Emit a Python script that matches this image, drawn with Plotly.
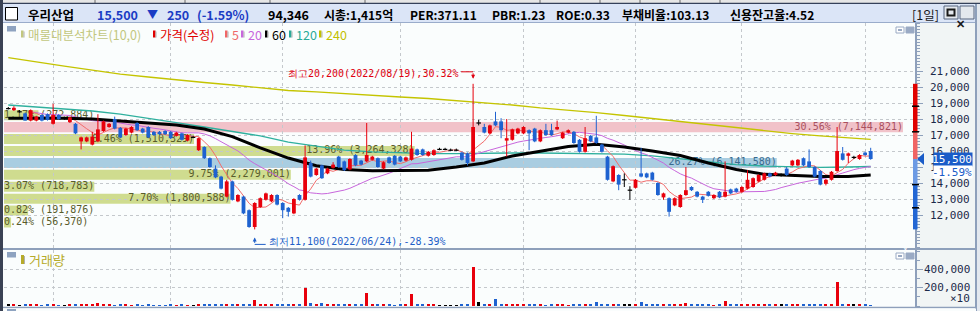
import plotly.graph_objects as go
import pandas as pd

# ============================ DATA ============================
holidays = ["2022-05-05", "2022-06-01", "2022-06-06", "2022-08-15",
            "2022-09-09", "2022-09-12", "2022-10-03", "2022-10-10"]
dates = [d for d in pd.bdate_range("2022-04-20", "2022-12-02")
         if d.strftime("%Y-%m-%d") not in holidays]

opens = [18650, 18550, 18450, 18350, 17900, 17900, 18250, 18300, 17700, 18250,
         18050, 17800, 17700, 16600, 16600, 16400, 16600, 17250, 17500, 18000,
         17450, 17000, 17150, 17750, 17400, 17500, 17200, 17200, 17250, 17200,
         16950, 17100, 16650, 16850, 16050, 16250, 15550, 14900, 14400, 13150,
         14100, 12850, 13150, 12300, 11250, 12500, 12950, 12850, 13250, 12750,
         12450, 12100, 13250, 12950, 15250, 14500, 15100, 14600, 14950, 15650,
         15350, 14850, 15750, 15400, 15350, 15450, 15550, 14900, 15600, 15700,
         15650, 15400, 15450, 16100, 16100, 15700, 15750, 16100, 16100, 16050,
         16050, 15900, 15850, 15350, 17750, 17500, 17100, 17850, 17850, 16650,
         16700, 17100, 17100, 17300, 17400, 16600, 17300, 17300, 17350, 16800,
         17150, 17200, 16700, 15950, 16950, 16850, 16400, 15650, 14100, 14500,
         14200, 13550, 13700, 14600, 14600, 14650, 14000, 13100, 13050, 12600,
         12500, 13250, 13750, 13450, 13150, 13450, 13050, 13450, 13150, 13600,
         13650, 13450, 13650, 13750, 14100, 14200, 14600, 14500, 14500, 14900,
         15100, 15100, 15550, 15350, 15000, 14750, 13950, 14200, 14750, 15850,
         15700, 15600, 15500, 15900, 16000]
highs = [18750, 18800, 18550, 18400, 18600, 18200, 18300, 18350, 18950, 18300,
         18150, 18150, 17750, 16900, 16900, 17200, 18300, 17900, 17750, 18150,
         17500, 17450, 17550, 17800, 17450, 17550, 17250, 17250, 17300, 17250,
         17200, 17150, 17050, 16950, 16850, 16300, 15600, 15100, 14450, 14200,
         14150, 13300, 13200, 12350, 12800, 13100, 13400, 13300, 13300, 12800,
         12500, 13050, 13300, 16350, 15400, 14950, 15150, 14950, 15300, 15700,
         15400, 15550, 15800, 15450, 17750, 15700, 15600, 15350, 15650, 15750,
         15700, 15650, 17200, 16150, 16150, 16000, 16100, 16200, 16200, 16150,
         16150, 15950, 15900, 20200, 17950, 17700, 17650, 18450, 18050, 18000,
         17400, 17450, 17550, 17350, 17450, 17350, 17700, 17700, 17900, 17200,
         17350, 17250, 16750, 17500, 17000, 18200, 16450, 15700, 15100, 14550,
         14600, 13800, 14250, 16200, 14650, 14700, 14050, 13400, 13100, 13100,
         13300, 15000, 13800, 13500, 13200, 13500, 13300, 13500, 15350, 13650,
         13700, 13800, 14800, 14350, 14550, 14650, 14650, 14700, 14600, 15000,
         15450, 15500, 15600, 16100, 15050, 14800, 14250, 14750, 17500, 16250,
         15900, 15700, 15800, 15950, 16200]
lows = [18600, 18500, 18400, 17900, 17850, 17850, 17850, 17900, 17650, 17950,
        17950, 17750, 17050, 16100, 16550, 16350, 16550, 17200, 17450, 17350,
        16800, 16950, 17100, 17250, 17100, 16800, 16950, 17000, 17000, 16750,
        16900, 16650, 16600, 16800, 16000, 15500, 14950, 14300, 13600, 13100,
        12900, 12800, 12050, 11200, 11100, 12450, 12900, 12800, 12600, 11800,
        11900, 12050, 12900, 12900, 14350, 14450, 14250, 14550, 14900, 14950,
        14750, 14800, 15050, 15100, 15300, 15400, 14950, 14850, 15200, 15100,
        15300, 15350, 15400, 15700, 15700, 15650, 15700, 16050, 16050, 16000,
        16000, 15400, 15100, 15300, 17600, 17100, 17050, 17550, 16800, 15650,
        16650, 17050, 17050, 16050, 16550, 16550, 16950, 16950, 17300, 16750,
        17100, 16450, 15900, 15900, 16550, 16450, 15900, 14150, 14050, 13550,
        13750, 12950, 13650, 14350, 14300, 14150, 13200, 12950, 11900, 12550,
        12450, 13200, 13500, 13100, 12750, 13150, 13000, 13050, 13100, 13300,
        13400, 13400, 13600, 13700, 14050, 14150, 14350, 14450, 14400, 14450,
        15050, 15050, 15050, 14950, 14350, 13850, 13850, 14150, 14700, 15400,
        15250, 15500, 15450, 15700, 15450]
closes = [18650, 18700, 18450, 17900, 18550, 18150, 17900, 17950, 18250, 18000,
          18050, 18100, 17100, 16850, 16850, 16900, 17350, 17850, 17700, 17400,
          16850, 17400, 17500, 17300, 17150, 16850, 17000, 17050, 17050, 16800,
          17150, 16700, 17000, 16850, 16800, 15550, 15000, 14350, 13650, 14100,
          12950, 13250, 12100, 11250, 12750, 13050, 13350, 13250, 12650, 12300,
          12200, 13000, 12950, 15600, 14400, 14900, 14300, 14900, 15150, 15000,
          14800, 15500, 15100, 15150, 15750, 15650, 15000, 15300, 15250, 15150,
          15350, 15600, 16150, 15750, 15750, 15950, 16050, 16100, 16100, 16050,
          16050, 15450, 15250, 17500, 17750, 17150, 17600, 17600, 17300, 16800,
          17350, 17400, 17500, 17100, 16600, 17300, 17000, 17000, 17500, 17150,
          17300, 16500, 15950, 16800, 16600, 16500, 15950, 14200, 15050, 13900,
          14200, 13550, 14200, 14400, 14350, 14200, 13250, 13350, 12200, 13050,
          13250, 13550, 13550, 13150, 12950, 13200, 13250, 13100, 13450, 13350,
          13450, 13750, 14200, 14300, 14500, 14600, 14400, 14650, 14500, 14500,
          15400, 15450, 15100, 15000, 14400, 13900, 14200, 14700, 16000, 15450,
          15850, 15600, 15750, 15750, 15500]
# volume in axis units (x10 shares)
volumes = [12000, 13000, 11000, 12000, 14000, 12000, 11000, 12000, 15000, 11000,
           10000, 12000, 14000, 16000, 12000, 15000, 30000, 14000, 12000, 11000,
           13000, 12000, 11000, 12000, 10000, 12000, 11000, 10000, 11000, 12000,
           10000, 12000, 11000, 10000, 14000, 13000, 15000, 16000, 18000, 17000,
           15000, 12000, 16000, 20000, 63000, 16000, 14000, 12000, 13000, 15000,
           14000, 18000, 20000, 196000, 30000, 18000, 28000, 16000, 20000, 22000,
           14000, 16000, 15000, 12000, 144000, 16000, 14000, 13000, 12000, 11000,
           12000, 13000, 130000, 15000, 13000, 12000, 12000, 11000, 10000, 11000,
           10000, 13000, 14000, 433000, 44000, 25000, 22000, 74000, 22000, 22000,
           14000, 13000, 14000, 12000, 12000, 13000, 11000, 12000, 13000, 12000,
           11000, 13000, 14000, 27000, 14000, 48000, 14000, 16000, 15000, 14000,
           12000, 13000, 12000, 40000, 13000, 14000, 15000, 13000, 16000, 13000,
           14000, 30000, 13000, 12000, 13000, 12000, 11000, 12000, 50000, 13000,
           12000, 14000, 22000, 15000, 14000, 13000, 12000, 13000, 12000, 13000,
           14000, 13000, 12000, 14000, 13000, 15000, 14000, 15000, 267000, 22000,
           14000, 12000, 13000, 12000, 9435]

# long moving averages (every 5th session)
ma_idx = [0, 5, 10, 15, 20, 25, 30, 35, 40, 45, 50, 55, 60, 65, 70, 75, 80, 85,
          90, 95, 100, 105, 110, 115, 120, 125, 130, 135, 140, 145, 150, 154]
ma60 = [18050, 18050, 18050, 18000, 17875, 17750, 17625, 17375, 16900, 16200,
        15560, 15080, 14850, 14770, 14770, 14800, 15000, 15250, 15690, 16000,
        16280, 16420, 16250, 16000, 15720, 15250, 14840, 14540, 14470, 14400,
        14400, 14500]
ma120 = [18875, 18750, 18650, 18500, 18310, 18060, 17780, 17500, 17220, 16940,
         16560, 16310, 16060, 15940, 15875, 15840, 15840, 15875, 15875, 15875,
         15860, 15840, 15810, 15690, 15500, 15310, 15150, 15060, 15000, 14980,
         15000, 15030]
ma240 = [21840, 21560, 21310, 21060, 20810, 20625, 20440, 20280, 20125, 19940,
         19780, 19690, 19600, 19470, 19375, 19280, 19150, 19030, 18875, 18690,
         18560, 18400, 18220, 18030, 17875, 17690, 17470, 17280, 17090, 16940,
         16810, 16730]

# volume profile (매물대) : 10 bins from top to bottom
profile_pct = [1.17, 30.56, 6.46, 13.96, 26.27, 9.75, 3.07, 7.70, 0.82, 0.24]
profile_vol = [272884, 7144821, 1510329, 3264328, 6141580, 2279001, 718783,
               1800588, 191876, 56370]
profile_top = 18550
profile_bottom = 11100

price_ticks = [12000, 13000, 14000, 15000, 16000, 17000, 18000, 19000, 20000, 21000]
vol_ticks = [200000, 400000]
range_marks = [18800, 17200, 13900, 12450]

stock_name = "우리산업"
today_volume = "94,346"
header_stats = ["시총:1,415억", "PER:371.11", "PBR:1.23", "ROE:0.33",
                "부채비율:103.13", "신용잔고율:4.52"]
legend_names = ["매물대분석차트(10,0)", "가격(수정)", "5", "20", "60", "120", "240"]

# ============================ STYLE ============================
W, H = 980, 311
KR = "Noto Sans CJK KR"
MONO = "DejaVu Sans Mono"
RED, BLUE, BLK = "#e8000c", "#1e62d0", "#000000"
PINK, SKY, OLIVE = "#f1c2c9", "#a9cde1", "#cfdc8f"
BG, AXBG, FRAME = "#fafdfd", "#f1f5f5", "#8ea0bb"


def px(x):
    return x / W


def py(y):
    return 1 - y / H


n = len(closes)
idx = list(range(n))
xr = [(4 - 8.3) / 5.6, (916 - 8.3) / 5.6]
span = xr[1] - xr[0]
PLOT_W = 912


def ccol(o, c):
    return RED if c > o else (BLUE if c < o else BLK)


colors = [ccol(o, c) for o, c in zip(opens, closes)]
cur = closes[-1]
prev = closes[-2]

fig = go.Figure()
shapes = []
ann = []

# ---------------- volume profile bands ----------------
maxp = max(profile_pct)
pitch = (profile_top - profile_bottom) / len(profile_pct)
BAND_FULL = 0.9857
lx, ly, lt, lp, lc = [], [], [], [], []
for k, (p, v) in enumerate(zip(profile_pct, profile_vol)):
    hi = profile_top - k * pitch
    lo = hi - 0.84 * pitch
    frac = p / maxp * BAND_FULL
    if p == maxp:
        fill, tcol = PINK, "#a9505e"
    elif hi - pitch <= cur < hi:
        fill, tcol = SKY, "#386a8e"
    else:
        fill, tcol = OLIVE, "#595c2c"
    shapes.append(dict(type="rect", xref="x domain", yref="y", x0=0, x1=frac,
                       y0=lo, y1=hi, fillcolor=fill, line=dict(width=0), layer="below"))
    label = f"{p:.2f}% ({v:,})"
    tw = len(label) * 6.02
    if frac * PLOT_W >= tw + 4:
        lx.append(xr[0] + frac * span)
        lp.append("middle left")
    else:
        lx.append(xr[0])
        lp.append("middle right")
    ly.append((lo + hi) / 2)
    lt.append(label)
    lc.append(tcol)

fig.add_trace(go.Scatter(x=lx, y=ly, text=lt, mode="text", textposition=lp,
                         textfont=dict(family=MONO, size=10, color=lc),
                         hoverinfo="skip", showlegend=False, cliponaxis=False))

# ---------------- moving averages ----------------
cs = pd.Series(closes, dtype=float)
ma5 = cs.rolling(5).mean()
ma20 = cs.rolling(20, min_periods=5).mean()
fig.add_trace(go.Scatter(x=ma_idx, y=ma240, mode="lines",
                         line=dict(color="#c4c400", width=1.3), hoverinfo="skip"))
fig.add_trace(go.Scatter(x=ma_idx, y=ma120, mode="lines",
                         line=dict(color="#2fb09e", width=1.3), hoverinfo="skip"))
fig.add_trace(go.Scatter(x=idx, y=ma20, mode="lines",
                         line=dict(color="#c866dc", width=1), hoverinfo="skip"))
fig.add_trace(go.Scatter(x=idx, y=ma5, mode="lines",
                         line=dict(color="#f26b6b", width=1), hoverinfo="skip"))
fig.add_trace(go.Scatter(x=ma_idx, y=ma60, mode="lines",
                         line=dict(color="#000000", width=3), hoverinfo="skip"))

# ---------------- candles ----------------
for colr in (RED, BLUE, BLK):
    wx, wy, bx, by = [], [], [], []
    for i in idx:
        if colors[i] != colr:
            continue
        wx += [i, i, None]
        wy += [lows[i], highs[i], None]
        if colr == BLK:
            bx += [i - 0.4, i + 0.4, None]
            by += [closes[i], closes[i], None]
        else:
            bx += [i, i, None]
            by += [opens[i], closes[i], None]
    fig.add_trace(go.Scatter(x=wx, y=wy, mode="lines", line=dict(color=colr, width=1),
                             hoverinfo="skip"))
    fig.add_trace(go.Scatter(x=bx, y=by, mode="lines",
                             line=dict(color=colr, width=1.2 if colr == BLK else 3.8),
                             hoverinfo="skip"))

# ---------------- volume ----------------
fig.add_trace(go.Bar(x=idx, y=volumes, marker=dict(color=colors, line=dict(width=0)),
                     width=0.55, xaxis="x2", yaxis="y2", hoverinfo="skip"))

# ---------------- high / low markers ----------------
ih = max(idx, key=lambda i: highs[i])
il = min(idx, key=lambda i: lows[i])
hi_v, lo_v = highs[ih], lows[il]
hi_txt = f"최고{hi_v:,}({dates[ih]:%Y/%m/%d}),{(hi_v / cur - 1) * 100:.2f}%"
lo_txt = f"최저{lo_v:,}({dates[il]:%Y/%m/%d}),{(lo_v / cur - 1) * 100:.2f}%"
ann.append(dict(x=ih, y=hi_v, xref="x", yref="y", text=hi_txt, showarrow=False,
                xanchor="right", yanchor="middle", xshift=-12, yshift=10,
                font=dict(family=MONO, size=10, color="#e00010")))
ann.append(dict(x=ih, y=hi_v, xref="x", yref="y", text="", showarrow=True,
                ax=0, ay=-7, yshift=5, arrowhead=2, arrowsize=0.8, arrowwidth=1,
                arrowcolor="#e00010"))
shapes.append(dict(type="line", xref="x", yref="y", xsizemode="pixel", ysizemode="pixel",
                   xanchor=ih, yanchor=hi_v, x0=-12, x1=0, y0=12, y1=12,
                   line=dict(color="#e00010", width=1)))
ann.append(dict(x=il, y=lo_v, xref="x", yref="y", text=lo_txt, showarrow=False,
                xanchor="left", yanchor="middle", xshift=12, yshift=-12,
                font=dict(family=MONO, size=10, color="#1f5fc8")))
ann.append(dict(x=il, y=lo_v, xref="x", yref="y", text="", showarrow=True,
                ax=0, ay=7, yshift=-8, arrowhead=2, arrowsize=0.8, arrowwidth=1,
                arrowcolor="#1f5fc8"))
shapes.append(dict(type="line", xref="x", yref="y", xsizemode="pixel", ysizemode="pixel",
                   xanchor=il, yanchor=lo_v, x0=0, x1=11, y0=-15, y1=-15,
                   line=dict(color="#1f5fc8", width=1)))

# ---------------- frame / panels ----------------
def prect(x0, y0, x1, y1, fill, line=None, lw=0, layer="below"):
    shapes.append(dict(type="rect", xref="paper", yref="paper", x0=px(x0), x1=px(x1),
                       y0=py(y1), y1=py(y0), fillcolor=fill, layer=layer,
                       line=dict(color=line or fill, width=lw)))


def pline(x0, y0, x1, y1, color, w=1, layer="above", dash=None):
    shapes.append(dict(type="line", xref="paper", yref="paper", x0=px(x0), x1=px(x1),
                       y0=py(y0), y1=py(y1), layer=layer,
                       line=dict(color=color, width=w, dash=dash)))


prect(916, 23, 976, 308, AXBG)                     # axis area
prect(0, 0, 980, 3.5, "#e6e6e6", layer="above")    # toolbar remnant
for xb in (95, 185, 270, 365, 540, 600, 640, 680, 720):
    pline(xb, 0, xb, 3.5, "#6a6a6a", 1)
pline(0, 3.5, 980, 3.5, "#34405a", 1.5)
prect(3, 4, 977, 22.5, "#dbe5f7", layer="above")   # header bar
pline(3, 22.5, 977, 22.5, "#9aaccb", 1)
prect(0, 0, 3, 311, "#3a4254", layer="above")      # left frame
pline(976, 4, 976, 311, FRAME, 2)                  # right frame
prect(977, 4, 980, 311, "#e3e8ef", layer="above")
pline(916, 23, 916, 308, FRAME, 2)                 # axis line
pline(3, 249, 976, 249, FRAME, 2)                  # separator
pline(3, 307.5, 976, 307.5, FRAME, 1.5)            # bottom
prect(3, 308.5, 976, 311, BG, layer="above")
prect(7, 309, 16, 311, "#8ea3c0", layer="above")

# checkbox + header buttons
prect(5.5, 7.5, 17.5, 20, "#ffffff", "#000000", 1, layer="above")
prect(944, 6, 958, 19, "#e4e8ee", "#56657e", 1, layer="above")
prect(947.5, 9.5, 954.5, 15.5, "#e4e8ee", "#1a1a1a", 2, layer="above")
prect(960, 6, 974, 19, "#e4e8ee", "#56657e", 1, layer="above")
ann.append(dict(x=px(967), y=py(12.5), xref="paper", yref="paper", text="<b>✕</b>",
                showarrow=False, font=dict(family=KR, size=11, color="#1a1a1a")))

# panel icons
for yy in (26, 252):
    prect(7, yy, 16, yy + 5.5, "#8ea3c0", layer="above")
    prect(896, yy + 1, 904, yy + 7, "#ffffff", "#9aaac4", 1, layer="above")
    prect(898, yy + 3, 902, yy + 5, "#9aaac4", layer="above")
    prect(906, yy + 1, 914, yy + 7, "#9aaac4", "#9aaac4", 1, layer="above")
    ann.append(dict(x=px(910), y=py(yy + 4), xref="paper", yref="paper", text="×",
                    showarrow=False, font=dict(family=MONO, size=8, color="#ffffff")))

# ---------------- header text ----------------
def htext(x, y, text, color="#000000", size=12, bold=True, family=KR):
    t = f"<b>{text}</b>" if bold else text
    ann.append(dict(x=px(x), y=py(y), xref="paper", yref="paper", text=t,
                    showarrow=False, xanchor="left", yanchor="middle",
                    font=dict(family=family, size=size, color=color)))


chg = cur - prev
pct = chg / prev * 100
arrow = "▼" if chg < 0 else "▲"
HB = "#1a3cc4"
htext(26, 14.5, stock_name, size=12.5)
htext(95, 14.5, f"{cur:,}", HB, 12.5)
htext(145, 14.5, arrow, HB, 11)
htext(165, 14.5, f"{abs(chg):,}", HB, 12.5)
htext(195, 14.5, f"({pct:+.2f}%)".replace("+", ""), HB, 12.5)
htext(266, 14.5, today_volume, size=12.5)
for text, xx in zip(header_stats, [322, 408, 490, 554, 620, 728]):
    htext(xx, 14.5, text, size=12)
htext(910, 14.5, "[1일]", "#1a1a1a", 12.5, bold=False)

# ---------------- legend row ----------------
leg_cols = ["#c2c77e", "#e00000", "#f06666", "#c866dc", "#000000", "#2aaa98", "#c2c000"]
leg_x = [26, 158, 230, 246, 270, 294, 324]
for name, colr, xx in zip(legend_names, leg_cols, leg_x):
    prect(xx - 5, 30.5, xx - 2.5, 37.5, colr, layer="above")
    prect(xx - 2.5, 31.5, xx - 1.5, 37.5, "#b0b0b0", layer="above")
    htext(xx, 34, name, colr, 12.5, bold=False)
prect(21, 255, 24, 264, "#b6ab2a", layer="above")
prect(24, 256, 25, 264, "#b0b0b0", layer="above")
htext(27, 259.5, "거래량", "#b6ab2a", 13, bold=False)

# ---------------- right axis labels ----------------
for t in price_ticks:
    ann.append(dict(x=px(972), y=t, xref="paper", yref="y", text=f"{t:,}",
                    showarrow=False, xanchor="right", yanchor="middle",
                    font=dict(family=MONO, size=11, color="#1c2a4a")))
for t in vol_ticks:
    ann.append(dict(x=px(972), y=t, xref="paper", yref="y2", text=f"{t:,}",
                    showarrow=False, xanchor="right", yanchor="middle",
                    font=dict(family=MONO, size=11, color="#1c2a4a")))
ann.append(dict(x=px(972), y=py(298), xref="paper", yref="paper", text="×10",
                showarrow=False, xanchor="right", yanchor="middle",
                font=dict(family=MONO, size=11, color="#1c2a4a")))

# current price box
ann.append(dict(x=px(973), y=cur, xref="paper", yref="y", text=f"{cur:,}",
                showarrow=False, xanchor="right", yanchor="middle", align="right",
                width=38, height=13, borderpad=0, bgcolor="#1a5cc8",
                font=dict(family=MONO, size=11, color="#ffffff")))
ann.append(dict(x=px(973), y=cur, xref="paper", yref="y", text=f"{pct:.2f}%",
                showarrow=False, xanchor="right", yanchor="middle", align="right",
                width=38, height=12, borderpad=0, bgcolor="#ffffff", yshift=-13,
                font=dict(family=MONO, size=11, color="#1a5cc8")))
shapes.append(dict(type="path", xref="paper", yref="y", ysizemode="pixel", yanchor=cur,
                   path=f"M {px(917)},0 L {px(924)},6 L {px(924)},-6 Z",
                   fillcolor="#1a5cc8", line=dict(width=0), layer="above"))

# high-low range bar on the axis
seg = [(range_marks[1], hi_v, "#e00000"), (cur, range_marks[1], "#f06464"),
       (range_marks[2], cur, "#6c9ae4"), (lo_v, range_marks[2], "#2266d4")]
for y0, y1, colr in seg:
    shapes.append(dict(type="rect", xref="paper", yref="y", x0=px(913), x1=px(917.5),
                       y0=y0, y1=y1, fillcolor=colr, line=dict(width=0), layer="above"))
for m in range_marks:
    shapes.append(dict(type="line", xref="paper", yref="y", x0=px(912), x1=px(919),
                       y0=m, y1=m, line=dict(color="#000000", width=1.5), layer="above"))

# ---------------- layout ----------------
month_starts = [i for i in range(1, n) if dates[i].month != dates[i - 1].month]
grid = dict(showgrid=True, gridcolor="#c4c8cc", gridwidth=1, griddash="dot")
fig.update_layout(
    width=W, height=H, margin=dict(l=0, r=0, t=0, b=0),
    paper_bgcolor=BG, plot_bgcolor=BG, showlegend=False, bargap=0,
    xaxis=dict(domain=[px(4), px(916)], range=xr, tickmode="array",
               tickvals=month_starts, showticklabels=False, ticks="",
               zeroline=False, showline=False, anchor="y", **grid),
    yaxis=dict(domain=[py(248), py(23)], range=[9937.5, 24000], side="right",
               anchor="x", tickmode="array", tickvals=price_ticks,
               showticklabels=False, ticks="outside", ticklen=6, tickcolor=FRAME,
               minor=dict(dtick=200, tick0=0, ticks="outside", ticklen=3,
                          tickcolor=FRAME, showgrid=False),
               zeroline=False, showline=False, **grid),
    xaxis2=dict(domain=[px(4), px(916)], range=xr, matches="x", tickmode="array",
                tickvals=month_starts, showticklabels=False, ticks="",
                zeroline=False, showline=False, anchor="y2", **grid),
    yaxis2=dict(domain=[py(306), py(250)], range=[0, 615000], side="right",
                anchor="x2", tickmode="array", tickvals=vol_ticks,
                showticklabels=False, ticks="outside", ticklen=6, tickcolor=FRAME,
                minor=dict(dtick=100000, tick0=0, ticks="outside", ticklen=3,
                           tickcolor=FRAME, showgrid=False),
                zeroline=False, showline=False, **grid),
    shapes=shapes, annotations=ann,
)
fig.update_traces(showlegend=False)
fig.write_html("out.html")
